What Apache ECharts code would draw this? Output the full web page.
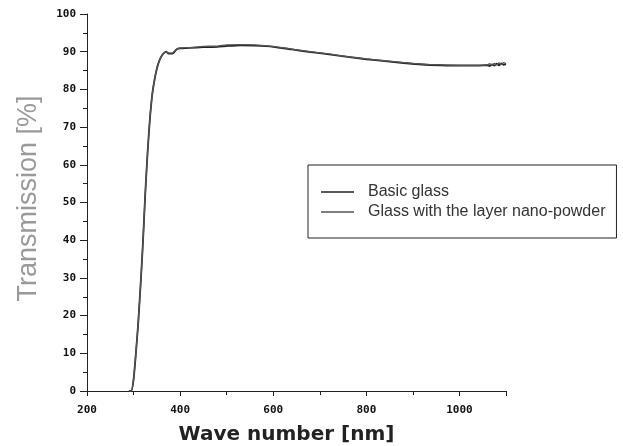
<!DOCTYPE html>
<html>
<head>
<meta charset="utf-8">
<script src="https://cdn.jsdelivr.net/npm/echarts@6/dist/echarts.min.js"></script>
<style>
  html, body { margin: 0; padding: 0; background: #fff; }
  #chart { width: 623px; height: 446px; }
</style>
</head>
<body>
<div id="chart"></div>
<script>
// Wavelengths (nm) and transmission (%) of the two samples
const wavelength = [290, 295, 300, 305, 310, 315, 320, 325, 330, 335, 340, 345, 350, 355, 360, 365, 370, 375, 380, 385, 390, 395, 400,
  420, 450, 480, 500, 530, 560, 600, 640, 680, 720, 760, 800, 840, 880, 920, 960, 1000, 1040, 1060, 1065, 1070, 1075, 1080, 1085, 1090, 1095, 1100];
const basicGlass = [0, 0, 3, 10, 18, 28, 39, 52, 63, 72, 78.5, 82.5, 85.5, 87.5, 88.8, 89.6, 90.0, 89.5, 89.5, 89.6, 90.3, 90.8, 90.9,
  91.0, 91.2, 91.3, 91.5, 91.7, 91.6, 91.3, 90.6, 89.9, 89.3, 88.6, 88.0, 87.5, 87.0, 86.6, 86.4, 86.3, 86.3, 86.4, 86.2, 86.6, 86.3, 86.8, 86.4, 86.9, 86.5, 86.7];
const layerGlass = [0, 0, 3, 10, 18, 28, 39, 52, 63, 72, 78.5, 82.5, 85.5, 87.5, 88.8, 89.6, 89.9, 89.7, 89.6, 89.8, 90.4, 90.8, 91.0,
  91.1, 91.4, 91.5, 91.8, 91.9, 91.8, 91.4, 90.7, 90.0, 89.4, 88.7, 88.1, 87.6, 87.1, 86.7, 86.5, 86.4, 86.4, 86.5, 86.8, 86.4, 86.9, 86.5, 87.0, 86.6, 87.1, 86.8];
const seriesNames = ['Basic glass', 'Glass with the layer nano-powder'];
const xTicks = { min: 200, max: 1100, step: 200 };
const yTicks = { min: 0, max: 100, step: 10 };

const pair = (xs, ys) => xs.map((x, i) => [x, ys[i]]);

const tickFont = { fontFamily: 'DejaVu Sans Mono', fontWeight: 'bold', fontSize: 11, color: '#111' };

const chart = echarts.init(document.getElementById('chart'), null, { renderer: 'canvas' });
chart.setOption({
  backgroundColor: '#fff',
  animation: false,
  grid: { left: 87, right: 117, top: 14, bottom: 55, outerBoundsMode: 'none', containLabel: false },
  legend: {
    left: 308, top: 165,
    orient: 'vertical',
    data: seriesNames.map(n => ({ name: n, icon: 'rect' })),
    itemWidth: 33, itemHeight: 1.5, itemGap: 4,
    borderColor: '#222', borderWidth: 1,
    padding: [19, 11, 18, 13],
    textStyle: { fontFamily: 'Liberation Sans', fontSize: 16, color: '#333', padding: [0, 0, 0, 9] }
  },
  xAxis: {
    type: 'value', min: xTicks.min, max: xTicks.max, interval: xTicks.step,
    name: 'Wave number [nm]', nameLocation: 'middle', nameGap: 34,
    nameTextStyle: { fontFamily: 'DejaVu Sans', fontWeight: 'bold', fontSize: 20, color: '#222', padding: [0, 20, 0, 0] },
    axisLine: { lineStyle: { color: '#222', width: 1 } },
    axisTick: { inside: false, length: 5, lineStyle: { color: '#222' } },
    minorTick: { show: true, splitNumber: 2, length: 4, lineStyle: { color: '#222' } },
    axisLabel: Object.assign({ margin: 14, showMaxLabel: false,
      formatter: v => (v % 200 === 0 ? String(v) : '') }, tickFont),
    splitLine: { show: false }
  },
  yAxis: {
    type: 'value', min: yTicks.min, max: yTicks.max, interval: yTicks.step,
    name: 'Transmission [%]', nameLocation: 'middle', nameGap: 45, nameRotate: 90,
    nameTextStyle: { fontFamily: 'Liberation Sans', fontSize: 27, color: '#9a9a9a', padding: [0, 0, 0, 8] },
    axisLine: { show: true, lineStyle: { color: '#222', width: 1 } },
    axisTick: { show: true, length: 7, lineStyle: { color: '#222' } },
    minorTick: { show: true, splitNumber: 2, length: 4, lineStyle: { color: '#222' } },
    axisLabel: Object.assign({ margin: 11 }, tickFont),
    splitLine: { show: false }
  },
  series: [
    {
      name: seriesNames[0], type: 'line', data: pair(wavelength, basicGlass),
      showSymbol: false, symbol: 'none', smooth: 0.2,
      lineStyle: { color: '#222', width: 1.8 }, itemStyle: { color: '#222' }
    },
    {
      name: seriesNames[1], type: 'line', data: pair(wavelength, layerGlass),
      showSymbol: false, symbol: 'none', smooth: 0.2,
      lineStyle: { color: '#555', width: 1.3 }, itemStyle: { color: '#555' }
    }
  ]
});
</script>
</body>
</html>
